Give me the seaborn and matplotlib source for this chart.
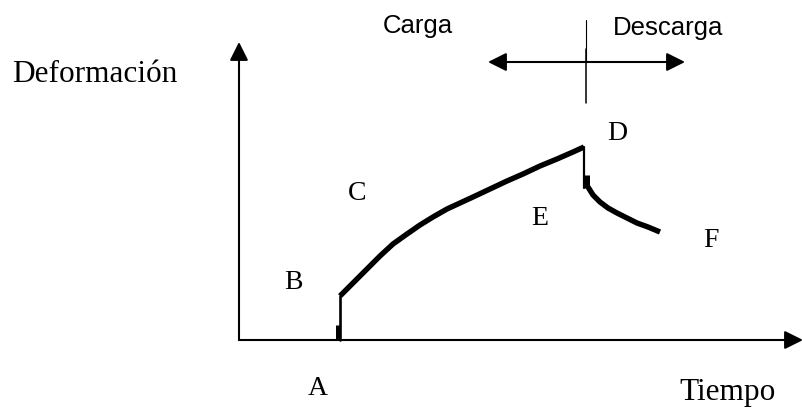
import numpy as np
import pandas as pd
import seaborn as sns
import matplotlib.pyplot as plt

sns.set_theme(style="white")

# Schematic deformation vs time (arbitrary units, origin at axis corner)
load_t = [1.01, 1.14, 1.28, 1.41, 1.54, 1.68, 1.81, 1.94, 2.08, 2.21, 2.34, 2.51,
          2.68, 2.84, 3.01, 3.18, 3.34, 3.45]
load_d = [0.44, 0.57, 0.71, 0.84, 0.96, 1.06, 1.15, 1.23, 1.31, 1.37, 1.43, 1.51,
          1.59, 1.66, 1.74, 1.81, 1.88, 1.93]
instant_t = [1.01, 1.01]
instant_d = [0.00, 0.44]
drop_t = [3.45, 3.45]
drop_d = [1.93, 1.52]
recov_t = [3.49, 3.54, 3.61, 3.69, 3.78, 3.88, 3.98, 4.09, 4.21]
recov_d = [1.53, 1.45, 1.38, 1.32, 1.27, 1.22, 1.17, 1.13, 1.08]

points = ["A", "B", "C", "D", "E", "F"]
point_t = [0.79, 0.54, 1.18, 3.78, 3.01, 4.72]
point_d = [-0.55, 0.51, 1.40, 2.00, 1.15, 0.93]

t_max, d_max = 5.64, 2.98
split_t = 3.47

load = pd.DataFrame({"t": load_t, "d": load_d})
recov = pd.DataFrame({"t": recov_t, "d": recov_d})

fig = plt.figure(figsize=(8.03, 4.08), dpi=100)
ax = fig.add_axes([0, 0, 1, 1])
ax.set_xlim(-2.39, 5.64)
ax.set_ylim(-0.68, 3.40)
ax.axis("off")

serif = "Liberation Serif"
sans = "Liberation Sans"

# axes with arrow heads
arrow = dict(arrowstyle="-|>,head_length=0.8,head_width=0.4", mutation_scale=14,
             lw=1.5, color="black", shrinkA=0, shrinkB=0)
ax.annotate("", xy=(0, d_max), xytext=(0, 0), arrowprops=arrow, annotation_clip=False)
ax.annotate("", xy=(t_max, 0), xytext=(0, 0), arrowprops=arrow, annotation_clip=False)

# curves (thick ones through seaborn)
sns.lineplot(data=load, x="t", y="d", sort=False, estimator=None, color="black", ax=ax)
sns.lineplot(data=recov, x="t", y="d", sort=False, estimator=None, color="black", ax=ax)
for line in ax.lines:
    line.set_linewidth(3.9)
    line.set_solid_capstyle("butt")
    line.set_solid_joinstyle("round")

ax.plot(instant_t, instant_d, color="black", lw=1.9)
ax.plot([0.99, 0.99], [0, 0.15], color="black", lw=3.6, solid_capstyle="butt")
ax.plot(drop_t, drop_d, color="black", lw=1.6)
ax.plot([3.48, 3.48], [1.65, 1.52], color="black", lw=3.6, solid_capstyle="butt")

# load / unload indicator
ax.annotate("", xy=(2.49, 2.78), xytext=(4.46, 2.78),
            arrowprops=dict(arrowstyle="<|-|>,head_length=0.8,head_width=0.4",
                            mutation_scale=14, lw=1.5, color="black",
                            shrinkA=0, shrinkB=0))
ax.plot([split_t, split_t], [2.78, 3.20], color="black", lw=0.8)
ax.plot([split_t, split_t], [2.37, 2.91], color="black", lw=1.1)
ax.text(1.44, 3.07, "Carga", family=sans, fontsize=18.5, color="black",
        ha="left", va="baseline")
ax.text(3.74, 3.05, "Descarga", family=sans, fontsize=18.5, color="black",
        ha="left", va="baseline")

# labels
for name, t, d in zip(points, point_t, point_d):
    ax.text(t, d, name, family=serif, fontsize=20, color="black",
            ha="center", va="baseline")
ax.text(-2.27, 2.58, "Deformación", family=serif, fontsize=22.5, color="black",
        ha="left", va="baseline")
ax.text(4.89, -0.60, "Tiempo", family=serif, fontsize=22.5, color="black",
        ha="center", va="baseline")

fig.savefig("out.png", dpi=100)
